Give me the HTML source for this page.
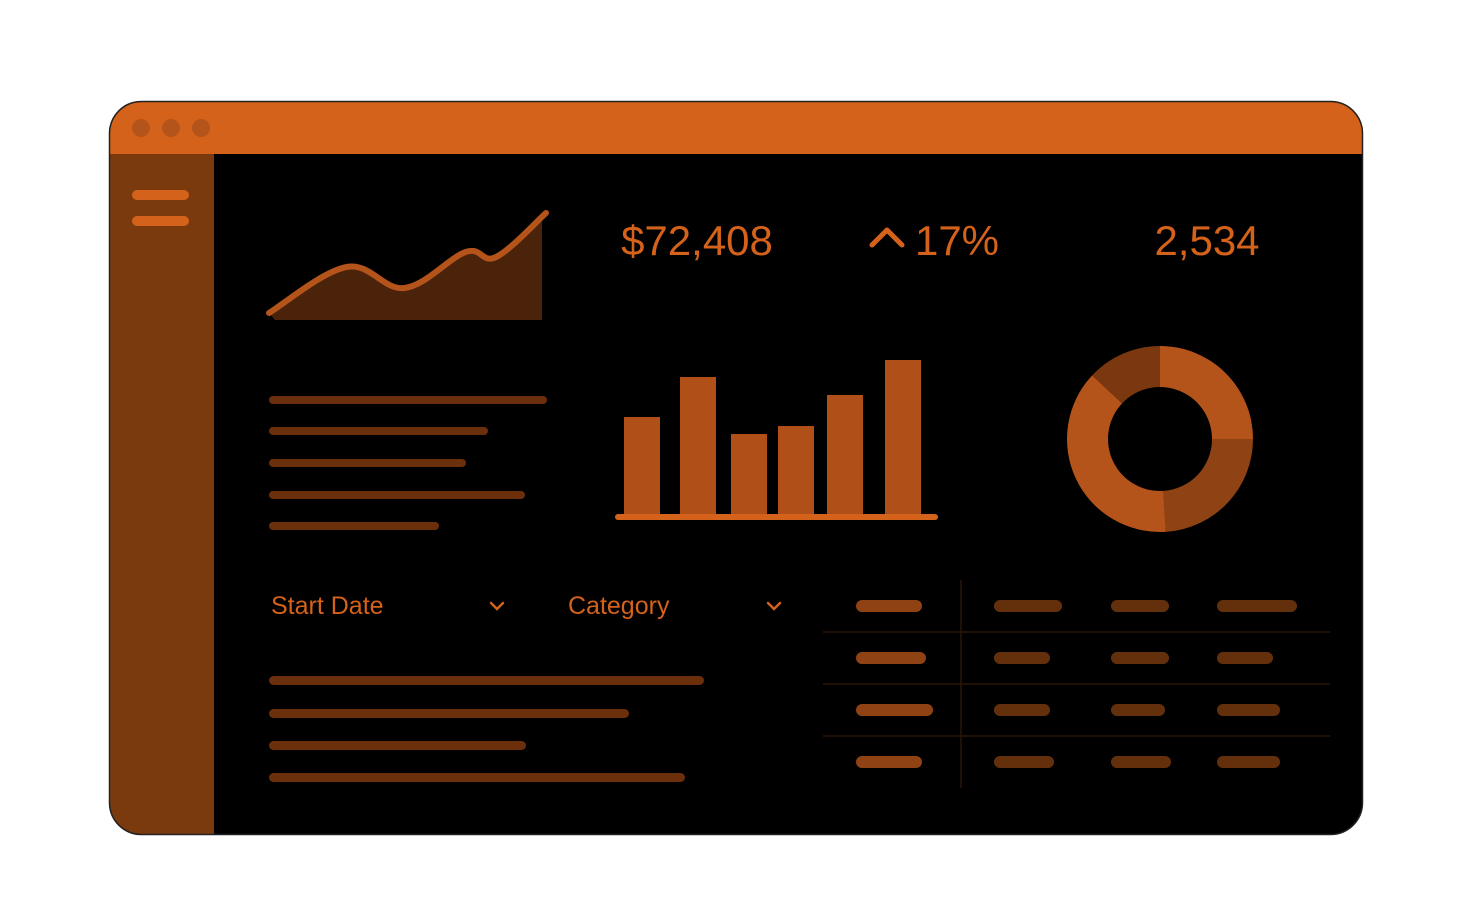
<!DOCTYPE html>
<html><head><meta charset="utf-8"><style>
html,body{margin:0;padding:0;background:#fff;width:1467px;height:902px;overflow:hidden}
svg{display:block}
text{font-family:"Liberation Sans",sans-serif}
</style></head><body>
<svg id="s" width="1467" height="902" viewBox="0 0 1467 902">
<defs><clipPath id="win"><rect x="109" y="101" width="1254" height="734" rx="32"/></clipPath></defs>
<g clip-path="url(#win)">
<rect x="109" y="101" width="1254" height="734" fill="#000"/>
<rect x="109" y="101" width="1254" height="53" fill="#D4621A"/>
<rect x="109" y="154" width="105" height="681" fill="#7A3A0E"/>
</g>
<rect x="109.5" y="101.5" width="1253" height="733" rx="32" fill="none" stroke="#222" stroke-width="1.5"/>
<circle cx="141" cy="128" r="9" fill="#B5541A"/>
<circle cx="171" cy="128" r="9" fill="#B5541A"/>
<circle cx="201" cy="128" r="9" fill="#B5541A"/>
<g>
<rect x="132" y="190" width="57" height="10" rx="5" fill="#D4621A"/>
<rect x="132" y="216" width="57" height="10" rx="5" fill="#D4621A"/>
</g>
<g id="area"></g>
<text x="697" y="255" font-size="42" fill="#D4621A" text-anchor="middle">$72,408</text>
<path d="M872 245 L887 230 L902 245" fill="none" stroke="#D4621A" stroke-width="5" stroke-linecap="round" stroke-linejoin="round"/>
<text x="957" y="255" font-size="42" fill="#D4621A" text-anchor="middle">17%</text>
<text x="1207" y="255" font-size="42" fill="#D4621A" text-anchor="middle">2,534</text>
<g id="bars"></g>
<g id="donut"></g>
<g id="lists"></g>
<text x="271" y="614" font-size="25" fill="#D4621A">Start Date</text>
<path d="M491 603 L497 609 L503 603" fill="none" stroke="#D4621A" stroke-width="2.5" stroke-linecap="round"/>
<text x="568" y="614" font-size="25" fill="#D4621A">Category</text>
<path d="M768 603 L774 609 L780 603" fill="none" stroke="#D4621A" stroke-width="2.5" stroke-linecap="round"/>
<g id="table">
<line x1="961" y1="580" x2="961" y2="788" stroke="#2a1406" stroke-width="1.5"/>
<line x1="823" y1="632" x2="1330" y2="632" stroke="#2a1406" stroke-width="1.5"/>
<line x1="823" y1="684" x2="1330" y2="684" stroke="#2a1406" stroke-width="1.5"/>
<line x1="823" y1="736" x2="1330" y2="736" stroke="#2a1406" stroke-width="1.5"/>
</g>
</svg>
<script>
const NS="http://www.w3.org/2000/svg";
function mk(p,t,a){const e=document.createElementNS(NS,t);for(const k in a)e.setAttribute(k,a[k]);p.appendChild(e);return e;}
// area chart data
const areaValues=[0,46,25,61,56,100];
const areaX=[0,0.28,0.49,0.71,0.82,1];
const ax=v=>269+v*277, ay=v=>313-v*1.0;
(function(){
 const g=document.getElementById('area');
 const pts=areaValues.map((v,i)=>[ax(areaX[i]),ay(v)]);
 let d="M"+pts[0][0]+" "+pts[0][1];
 for(let i=0;i<pts.length-1;i++){
  const p0=pts[Math.max(0,i-1)],p1=pts[i],p2=pts[i+1],p3=pts[Math.min(pts.length-1,i+2)];
  const t=0.18;
  const c1=[p1[0]+(p2[0]-p0[0])*t,p1[1]+(p2[1]-p0[1])*t];
  const c2=[p2[0]-(p3[0]-p1[0])*t,p2[1]-(p3[1]-p1[1])*t];
  d+=` C${c1[0]} ${c1[1]} ${c2[0]} ${c2[1]} ${p2[0]} ${p2[1]}`;}
 const f=mk(g,'path',{d:d+` L${ax(1)-4} ${pts[5][1]+8} L${ax(1)-4} 320 L${ax(0)+6} 320 Z`,fill:'#4A230A'});
 
 
 const l=mk(g,'path',{d:d,fill:'none',stroke:'#B5541A','stroke-width':6,'stroke-linecap':'round'});
 
 
})();
// bar chart data
const barValues=[100,140,83,91,122,157];
(function(){
 const g=document.getElementById('bars');
 const xs=[624,680,731,778,827,885];
 barValues.forEach((v,i)=>{const r=mk(g,'rect',{x:xs[i],y:517-v,width:36,height:v,fill:'#B04F17'});
  
  });
 const b=mk(g,'line',{x1:618,y1:517,x2:935,y2:517,stroke:'#D4621A','stroke-width':6,'stroke-linecap':'round'});
 
 
})();
// donut data
const donutValues=[25,24,38,13];
const donutColors=['#B5541A','#8F4214','#B5541A','#7A3710'];
(function(){
 const g=document.getElementById('donut');const cx=1160,cy=439,R=93,r=52;
 const tot=donutValues.reduce((a,b)=>a+b,0);let a0=-Math.PI/2;
 donutValues.forEach((v,i)=>{const a1=a0+v/tot*2*Math.PI;const lg=a1-a0>Math.PI?1:0;
  const P=(rad,a)=>(cx+rad*Math.cos(a))+" "+(cy+rad*Math.sin(a));
  const p=mk(g,'path',{d:`M${P(R,a0)} A${R} ${R} 0 ${lg} 1 ${P(R,a1)} L${P(r,a1)} A${r} ${r} 0 ${lg} 0 ${P(r,a0)} Z`,fill:donutColors[i]});
  
  
  a0=a1;});
})();
// list lines
const topListLengths=[278,219,197,256,170];
const bottomListLengths=[435,360,257,416];
(function(){
 const g=document.getElementById('lists');
 const ty=[400,431,463,495,526];
 topListLengths.forEach((w,i)=>{const r=mk(g,'rect',{x:269,y:ty[i]-4,width:w,height:8,rx:4,fill:'#6B2F0C'});
  
  });
 const by=[681,714,746,778];
 bottomListLengths.forEach((w,i)=>{const r=mk(g,'rect',{x:269,y:by[i]-5,width:w,height:9,rx:4.5,fill:'#6B2F0C'});
  
  });
})();
// table pills
const tableWidths=[[66,68,58,80],[70,56,58,56],[77,56,54,63],[66,60,60,63]];
(function(){
 const g=document.getElementById('table');
 const cx=[856,994,1111,1217],ry=[606,658,710,762];
 tableWidths.forEach((row,i)=>row.forEach((w,j)=>{const r=mk(g,'rect',{x:cx[j],y:ry[i]-6,width:w,height:12,rx:6,fill:j==0?'#8F4213':'#64300C'});
  
  }));
})();
</script>
</body></html>
